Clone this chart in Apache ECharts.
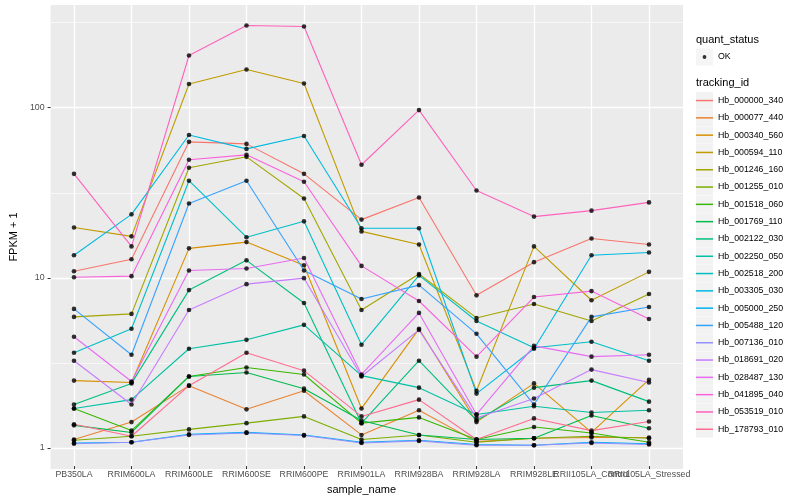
<!DOCTYPE html>
<html><head><meta charset="utf-8">
<script src="https://cdn.jsdelivr.net/npm/echarts@6/dist/echarts.min.js"></script>
<style>html,body{margin:0;padding:0;background:#fff}#c{width:800px;height:500px}</style>
</head><body><div id="c"></div>
<script>
const categories = ['PB350LA','RRIM600LA','RRIM600LE','RRIM600SE','RRIM600PE','RRIM901LA','RRIM928BA','RRIM928LA','RRIM928LE','RRII105LA_Control','RRII105LA_Stressed'];
const trackingIds = ['Hb_000000_340','Hb_000077_440','Hb_000340_560','Hb_000594_110','Hb_001246_160','Hb_001255_010','Hb_001518_060','Hb_001769_110','Hb_002122_030','Hb_002250_050','Hb_002518_200','Hb_003305_030','Hb_005000_250','Hb_005488_120','Hb_007136_010','Hb_018691_020','Hb_028487_130','Hb_041895_040','Hb_053519_010','Hb_178793_010'];
const colors = ['#F8766D','#EA8331','#D89000','#C09B00','#A3A500','#7CAE00','#39B600','#00BB4E','#00BF7D','#00C1A3','#00BFC4','#00BAE0','#00B0F6','#35A2FF','#9590FF','#C77CFF','#E76BF3','#FA62DB','#FF62BC','#FF6C91'];
const yMajorTicks = [1, 10, 100];
const yMinorTicks = [3.1623, 31.623, 316.23];
const yMin = 0.7522, yMax = 401.8;

// FPKM + 1 values, one array per tracking_id (order = categories)
const s000000_340 = [10.7, 12.6, 62.3, 60.6, 40.3, 21.6, 29.2, 7.7, 12.1, 16.7, 15.4];
const s000077_440 = [1.08, 1.37, 2.25, 1.63, 2.1, 1.15, 1.61, 1.05, 1.1, 1.11, 1.11];
const s000340_560 = [2.41, 2.35, 14.6, 15.9, 11.6, 1.65, 4.88, 1.37, 2.32, 1.19, 2.44];
const s000594_110 = [19.4, 17.2, 137, 167, 138, 18.4, 15.4, 2.1, 15.0, 7.2, 10.6];
const s001246_160 = [5.74, 5.98, 43.8, 50.8, 28.8, 6.31, 10.3, 5.66, 6.84, 5.43, 7.84];
const s001255_010 = [1.07, 1.13, 1.24, 1.35, 1.48, 1.08, 1.15, 1.04, 1.1, 1.13, 1.1];
const s001518_060 = [1.65, 1.22, 2.55, 2.88, 2.62, 1.35, 1.46, 1.08, 1.28, 1.18, 1.04];
const s001769_110 = [1.31, 1.19, 2.55, 2.69, 2.16, 1.4, 1.15, 1.08, 1.1, 1.5, 1.26];
const s002122_030 = [1.74, 2.32, 8.27, 12.4, 6.94, 1.35, 3.16, 1.4, 2.19, 2.41, 1.81];
const s002250_050 = [1.65, 1.86, 3.72, 4.2, 5.15, 2.58, 2.19, 1.52, 1.7, 1.56, 1.61];
const s002518_200 = [3.52, 4.88, 36.7, 17.0, 21.1, 3.93, 10.1, 5.43, 3.77, 4.09, 3.16];
const s003305_030 = [13.3, 23.2, 68.4, 56.6, 67.5, 19.2, 19.2, 2.02, 3.72, 13.3, 13.8];
const s005000_250 = [1.03, 1.04, 1.16, 1.19, 1.15, 1.04, 1.07, 1.01, 1.0, 1.04, 1.02];
const s005488_120 = [6.4, 3.43, 26.9, 36.7, 10.8, 7.32, 8.85, 4.56, 1.74, 5.74, 6.57];
const s007136_010 = [1.02, 1.04, 1.15, 1.18, 1.14, 1.03, 1.06, 1.0, 1.0, 1.03, 1.01];
const s018691_020 = [3.16, 1.74, 6.31, 8.97, 9.73, 2.55, 4.81, 1.45, 1.89, 2.8, 2.35];
const s028487_130 = [4.38, 2.38, 10.8, 11.1, 12.8, 2.62, 6.06, 1.52, 3.87, 3.34, 3.43];
const s041895_040 = [9.86, 10, 48.8, 52.2, 36.2, 11.5, 7.13, 3.34, 7.52, 8.16, 5.58];
const s053519_010 = [40.3, 15.0, 202, 304, 300, 45.6, 96, 32.1, 22.5, 24.4, 27.3];
const s178793_010 = [1.33, 1.13, 2.25, 3.52, 2.76, 1.48, 1.86, 1.08, 1.44, 1.22, 1.38];

const seriesValues = [s000000_340, s000077_440, s000340_560, s000594_110, s001246_160, s001255_010, s001518_060, s001769_110, s002122_030, s002250_050, s002518_200, s003305_030, s005000_250, s005488_120, s007136_010, s018691_020, s028487_130, s041895_040, s053519_010, s178793_010];

const FONT = 'Liberation Sans, Arial, Helvetica, sans-serif';
const chart = echarts.init(document.getElementById('c'), null, {renderer: 'canvas'});

const lineSeries = trackingIds.map((id, i) => ({
  name: id, type: 'line', xAxisIndex: 0, yAxisIndex: 0,
  data: seriesValues[i], symbol: 'none', showSymbol: false,
  lineStyle: {color: colors[i], width: 1.1}, itemStyle: {color: colors[i]},
  z: 2, silent: true, animation: false
}));
const pointSeries = trackingIds.map((id, i) => ({
  name: 'OK', type: 'scatter', xAxisIndex: 0, yAxisIndex: 0,
  data: seriesValues[i], symbol: 'circle', symbolSize: 4.6,
  itemStyle: {color: '#000'}, z: 3, silent: true, animation: false
}));

const linePath = 'path://M0,0M0,7.8L17,7.8L17,9.3L0,9.3ZM17,17';
const dotPath = 'path://M0,0M6.6,8.5A1.9,1.9,0,1,1,10.4,8.5A1.9,1.9,0,1,1,6.6,8.5ZM17,17';

const legendBase = {
  orient: 'vertical', left: 696, padding: 0, itemWidth: 17, itemHeight: 17,
  itemGap: 0.3, selectedMode: false
};

chart.setOption({
  animation: false,
  backgroundColor: '#fff',
  textStyle: {fontFamily: FONT},
  title: [
    {text: 'quant_status', left: 696, top: 34, padding: 0, textStyle: {fontSize: 11, fontWeight: 'normal', color: '#000', fontFamily: FONT}},
    {text: 'tracking_id', left: 696, top: 77, padding: 0, textStyle: {fontSize: 11, fontWeight: 'normal', color: '#000', fontFamily: FONT}}
  ],
  grid: [
    {left: 74, width: 575, top: 5, height: 464, show: false},
    {left: 40, width: 643, top: 5, height: 464, show: true, backgroundColor: '#EBEBEB', borderWidth: 0}
  ],
  xAxis: [
    {gridIndex: 0, type: 'category', data: categories, boundaryGap: false,
     axisLine: {show: false},
     axisTick: {show: true, length: 3, lineStyle: {color: '#333', width: 1}},
     axisLabel: {interval: 0, color: '#4D4D4D', fontSize: 8.8, margin: 4, fontFamily: FONT},
     splitLine: {show: true, lineStyle: {color: '#fff', width: 1.3}},
     name: 'sample_name', nameLocation: 'middle', nameGap: 13,
     nameTextStyle: {fontSize: 11, color: '#000', fontFamily: FONT}},
    {gridIndex: 1, type: 'value', show: false}
  ],
  yAxis: [
    {gridIndex: 0, type: 'log', logBase: 10, min: yMin, max: yMax, show: false},
    {gridIndex: 1, type: 'log', logBase: 10, min: yMin, max: yMax,
     axisLine: {show: false},
     axisTick: {show: true, length: 3, lineStyle: {color: '#333', width: 1}, customValues: yMajorTicks},
     axisLabel: {color: '#4D4D4D', fontSize: 8.8, margin: 6, customValues: yMajorTicks, fontFamily: FONT,
                 formatter: v => String(v)},
     splitLine: {show: true, lineStyle: {color: '#fff', width: 1.3}},
     name: 'FPKM + 1', nameLocation: 'middle', nameGap: 22, nameRotate: 90,
     nameTextStyle: {fontSize: 11, color: '#000', fontFamily: FONT}},
    {gridIndex: 1, type: 'log', logBase: 10, min: yMin, max: yMax,
     axisLine: {show: false}, axisLabel: {show: false},
     axisTick: {show: false, customValues: yMinorTicks},
     splitLine: {show: true, lineStyle: {color: '#fff', width: 0.6}}}
  ],
  legend: [
    Object.assign({}, legendBase, {top: 48.5, icon: 'rect', data: [{name: 'OK'}],
      itemStyle: {color: '#F2F2F2', borderWidth: 0}, textStyle: {color: 'rgba(0,0,0,0)', fontSize: 8.8, fontFamily: FONT}}),
    Object.assign({}, legendBase, {top: 48.5, data: [{name: 'OK', icon: dotPath, itemStyle: {color: '#000'}}],
      itemStyle: {borderWidth: 0}, textStyle: {color: '#000', fontSize: 8.8, fontFamily: FONT}}),
    Object.assign({}, legendBase, {top: 92, icon: 'rect', data: trackingIds.map(n => ({name: n})),
      itemStyle: {color: '#F2F2F2', borderWidth: 0}, textStyle: {color: 'rgba(0,0,0,0)', fontSize: 8.8, fontFamily: FONT}}),
    Object.assign({}, legendBase, {top: 92,
      data: trackingIds.map((n, i) => ({name: n, icon: linePath, itemStyle: {color: colors[i]}})),
      itemStyle: {borderWidth: 0}, textStyle: {color: '#000', fontSize: 8.8, fontFamily: FONT}})
  ],
  series: lineSeries.concat(pointSeries)
});
</script></body></html>
